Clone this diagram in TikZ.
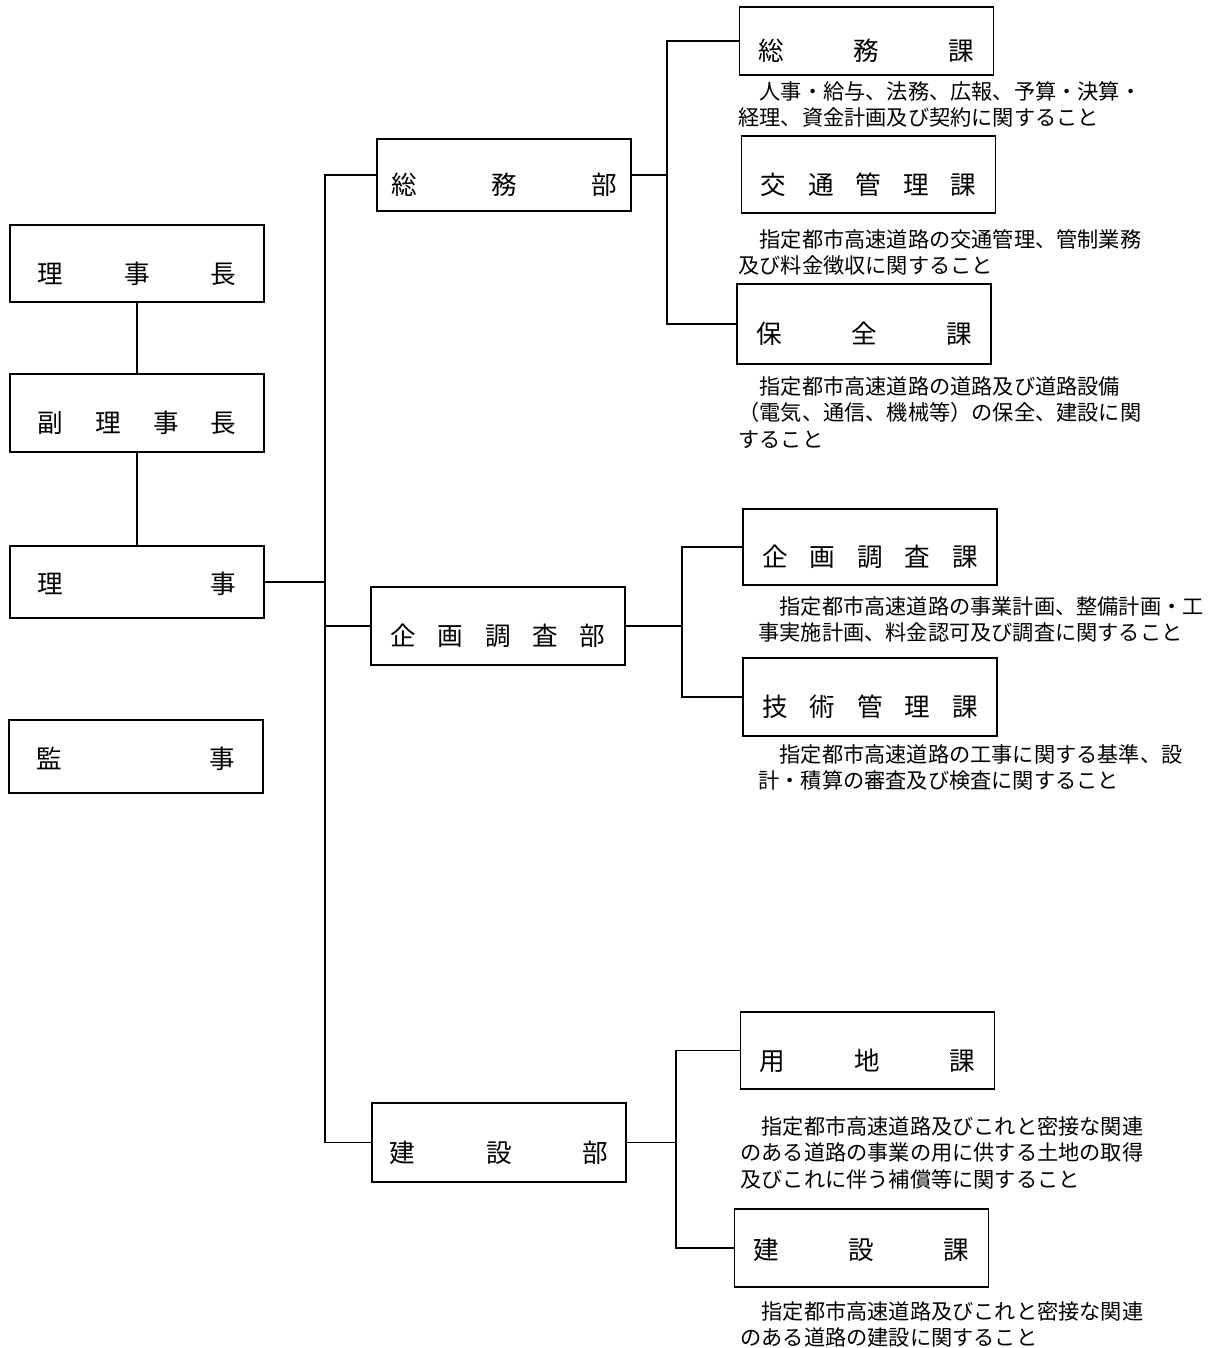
\documentclass[tikz,border=0pt]{standalone}
\usepackage{fontspec}
\setmainfont{Noto Sans CJK JP}
\usepackage{tikz}
\usetikzlibrary{calc, positioning}

\newcommand{\haichi}[2]{\hbox to #1{#2}}

\tikzset{
  soshiki/.style={draw, line width=0.9pt, minimum width=127pt, inner xsep=0pt,
    font=\fontsize{12.8pt}{15pt}\selectfont, text depth=0pt, text height=19.7pt},
  nakadan/.style={text height=11.7pt},
  setsumei/.style={anchor=north west, inner sep=0pt, align=left,
    font=\fontsize{10.6pt}{13.25pt}\selectfont},
  sen/.style={line width=0.9pt},
}

\begin{document}
\begin{tikzpicture}[x=0.5pt, y=-0.5pt]
    \useasboundingbox (0,0) rectangle (1223,1348);
    % 役員
    \node[soshiki, minimum height=38.5pt] (rijicho) at (137,263.5) {\haichi{99.5pt}{理\hfill 事\hfill 長}};
    \node[soshiki, minimum height=39pt] (fukurijicho) at (137,413) {\haichi{99.5pt}{副\hfill 理\hfill 事\hfill 長}};
    \node[soshiki, nakadan, minimum height=36pt] (riji) at (137,582) {\haichi{99.5pt}{理\hfill 事}};
    \node[soshiki, nakadan, minimum height=36.5pt] (kanji) at (136,756.5) {\haichi{99.5pt}{監\hfill 事}};
    % 部
    \node[soshiki, minimum height=36pt] (somubu) at (504,175) {\haichi{113pt}{総\hfill 務\hfill 部}};
    \node[soshiki, minimum height=39pt] (kikakubu) at (498,626) {\haichi{107.5pt}{企\hfill 画\hfill 調\hfill 査\hfill 部}};
    \node[soshiki, minimum height=39.5pt] (kensetsubu) at (499,1142.5) {\haichi{109.5pt}{建\hfill 設\hfill 部}};
    % 課
    \node[soshiki, minimum height=34pt] (somuka) at (866.5,41) {\haichi{108pt}{総\hfill 務\hfill 課}};
    \node[soshiki, minimum height=38.5pt] (kotsuka) at (868.5,174.5) {\haichi{108pt}{交\hfill 通\hfill 管\hfill 理\hfill 課}};
    \node[soshiki, minimum height=40pt] (hozenka) at (864,324) {\haichi{108pt}{保\hfill 全\hfill 課}};
    \node[soshiki, minimum height=38pt] (kikakuka) at (870,547) {\haichi{108pt}{企\hfill 画\hfill 調\hfill 査\hfill 課}};
    \node[soshiki, minimum height=39pt] (gijutsuka) at (870,697) {\haichi{108pt}{技\hfill 術\hfill 管\hfill 理\hfill 課}};
    \node[soshiki, minimum height=38.5pt] (yochika) at (867.5,1050.5) {\haichi{108pt}{用\hfill 地\hfill 課}};
    \node[soshiki, nakadan, minimum height=39pt] (kensetsuka) at (861.5,1248) {\haichi{108pt}{建\hfill 設\hfill 課}};
    % 分掌事務
    \node[setsumei] (somuka-s) at (738,81) {　人事・給与、法務、広報、予算・決算・\\経理、資金計画及び契約に関すること};
    \node[setsumei] (kotsuka-s) at (738,229) {　指定都市高速道路の交通管理、管制業務\\及び料金徴収に関すること};
    \node[setsumei] (hozenka-s) at (738,376) {　指定都市高速道路の道路及び道路設備\\（電気、通信、機械等）の保全、建設に関\\すること};
    \node[setsumei] (kikakuka-s) at (758,596) {　指定都市高速道路の事業計画、整備計画・工\\事実施計画、料金認可及び調査に関すること};
    \node[setsumei] (gijutsuka-s) at (758,744) {　指定都市高速道路の工事に関する基準、設\\計・積算の審査及び検査に関すること};
    \node[setsumei] (yochika-s) at (740,1116) {　指定都市高速道路及びこれと密接な関連\\のある道路の事業の用に供する土地の取得\\及びこれに伴う補償等に関すること};
    \node[setsumei] (kensetsuka-s) at (740,1301) {　指定都市高速道路及びこれと密接な関連\\のある道路の建設に関すること};
    % 幹線
    \coordinate (kansen) at (325,0);
    \coordinate (somusen) at (667,0);
    \coordinate (kikakusen) at (682,0);
    \coordinate (kensetsusen) at (676,0);
    \draw[sen] (rijicho.south) -- (fukurijicho.north);
    \draw[sen] (fukurijicho.south) -- (riji.north);
    \draw[sen] (riji.east) -- (kansen |- riji.east);
    \draw[sen] (somubu.west) -| (kansen |- kensetsubu.west) -- (kensetsubu.west);
    \draw[sen] (kikakubu.west) -- (kansen |- kikakubu.west);
    % 部から課へ
    \draw[sen] (somubu.east) -- (somusen |- somubu.east);
    \draw[sen] (somuka.west) -| (somusen |- hozenka.west) -- (hozenka.west);
    \draw[sen] (kikakubu.east) -- (kikakusen |- kikakubu.east);
    \draw[sen] (kikakuka.west) -| (kikakusen |- gijutsuka.west) -- (gijutsuka.west);
    \draw[sen] (kensetsubu.east) -- (kensetsusen |- kensetsubu.east);
    \draw[sen] (yochika.west) -| (kensetsusen |- kensetsuka.west) -- (kensetsuka.west);
\end{tikzpicture}
\end{document}
